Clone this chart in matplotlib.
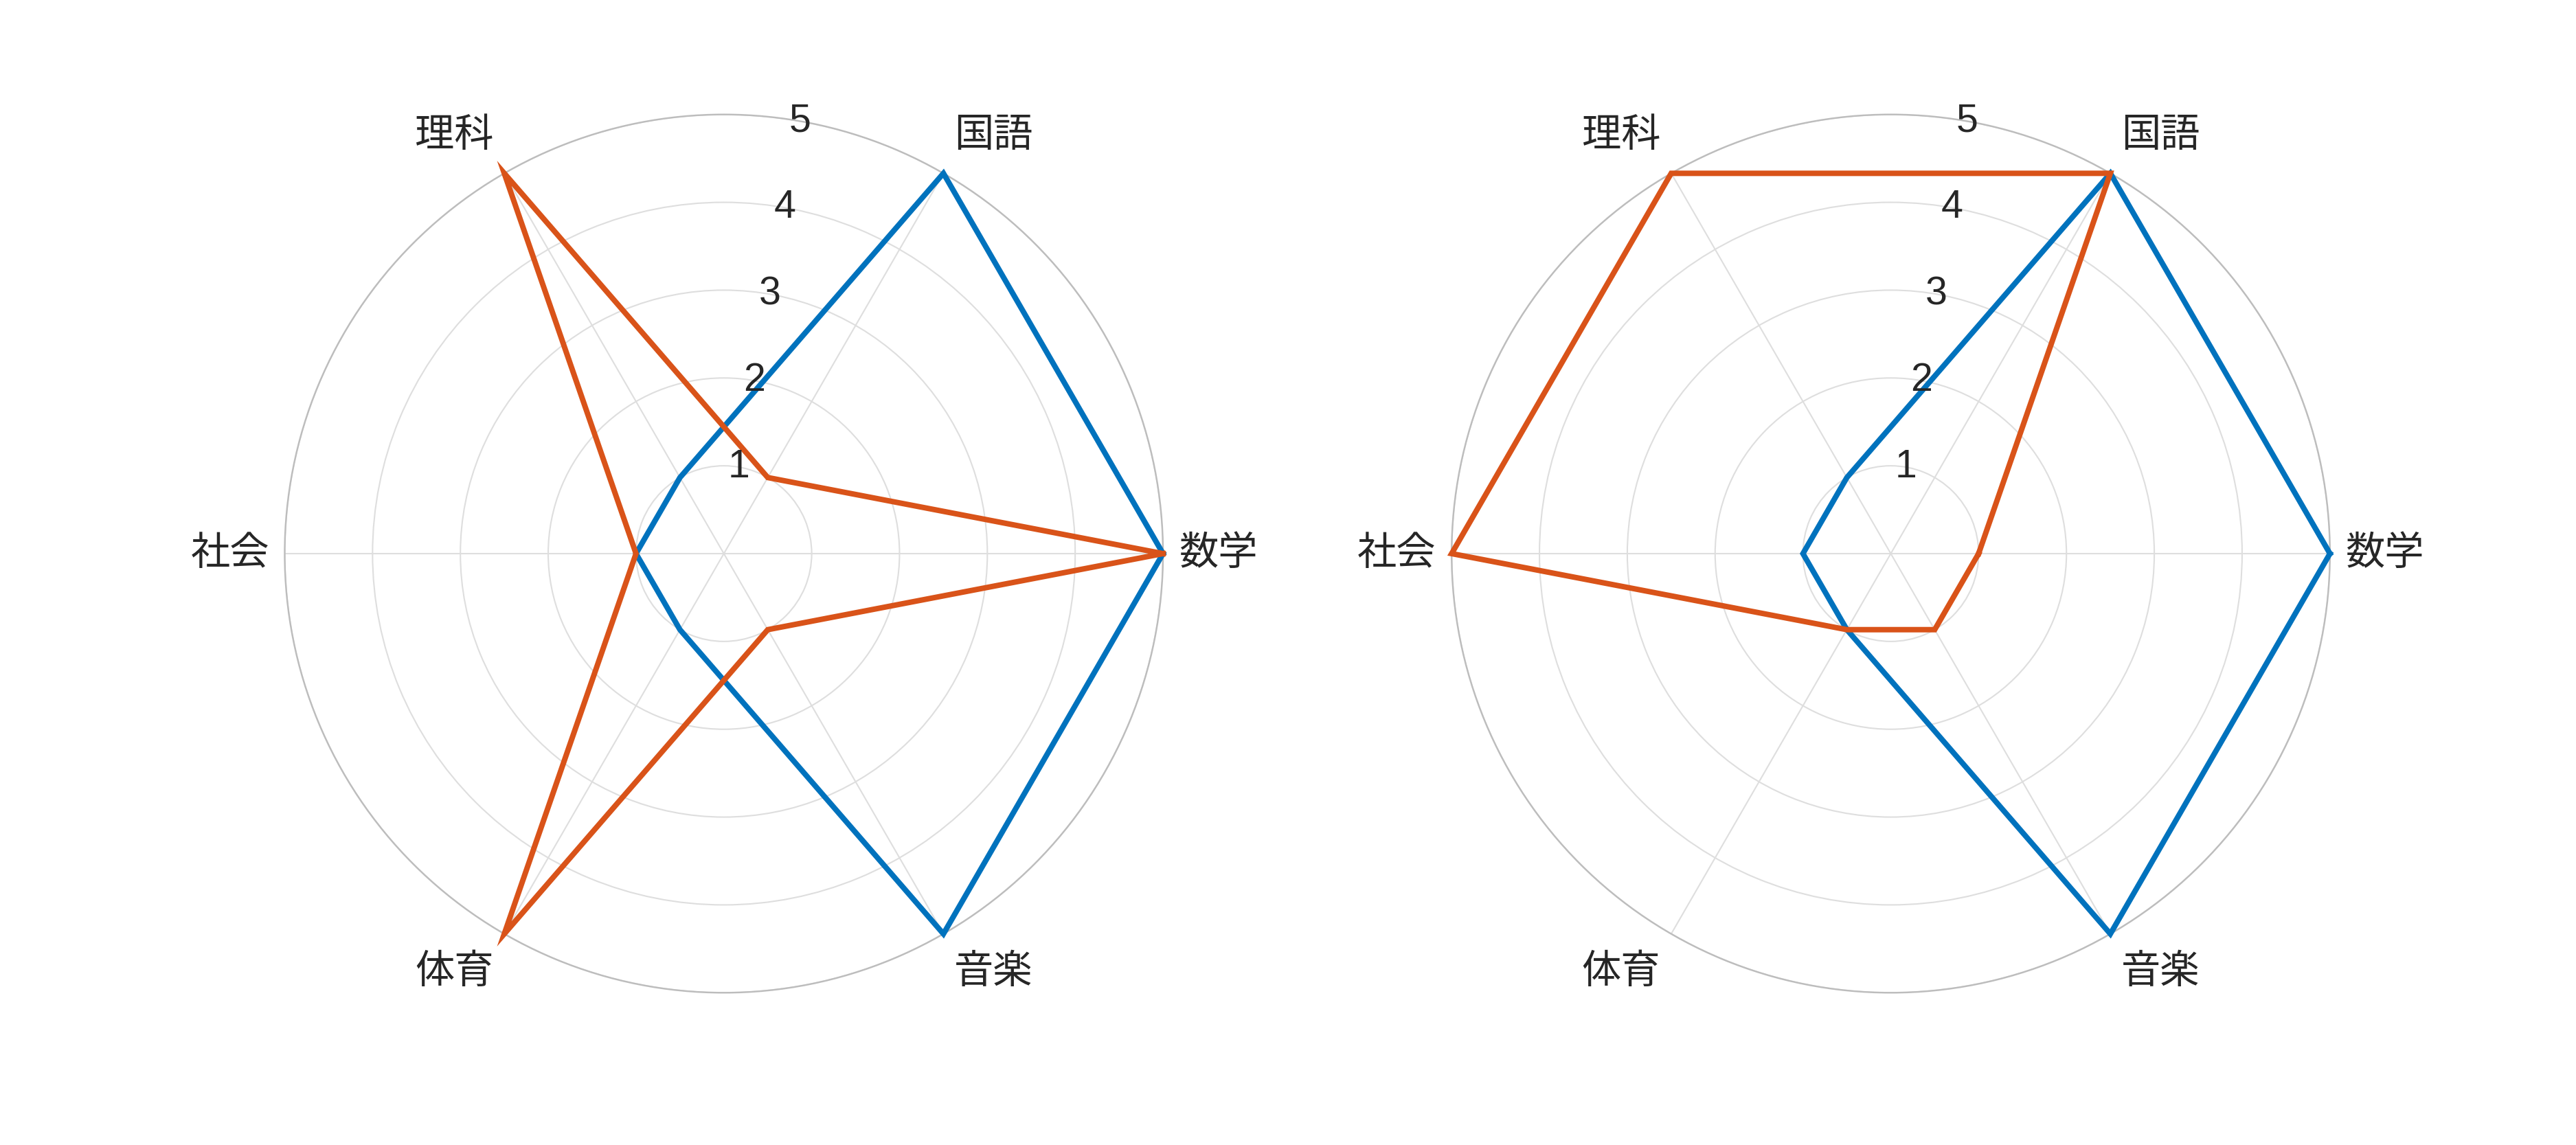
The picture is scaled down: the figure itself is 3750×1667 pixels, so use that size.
import numpy as np
import matplotlib
matplotlib.use('Agg')
import matplotlib.pyplot as plt

plt.rcParams['font.family'] = ['Noto Sans CJK JP', 'DejaVu Sans']

# subjects, counter-clockwise from the right
subjects = ['数学', '国語', '理科', '社会', '体育', '音楽']
r_ticks = [1, 2, 3, 4, 5]

# left chart
left_blue = [5, 5, 1, 1, 1, 5]
left_orange = [5, 1, 5, 1, 5, 1]
# right chart
right_blue = [5, 5, 1, 1, 1, 5]
right_orange = [1, 5, 5, 5, 1, 1]

blue = '#0072BD'
orange = '#D95319'
text_col = '#262626'

fig = plt.figure(figsize=(15, 6.668), dpi=250)

theta = np.deg2rad(np.arange(0, 360, 60))


def radar(ax, series):
    ax.set_ylim(0, 5)
    ax.set_yticks(r_ticks)
    ax.set_yticklabels([])
    ax.set_xticks(theta)
    ax.set_xticklabels([])
    ax.grid(True, color='#dedede', linewidth=0.6)
    ax.spines['polar'].set_color('#bdbdbd')
    ax.spines['polar'].set_linewidth(0.7)
    ax.tick_params(length=0)
    for vals, col in series:
        t = np.append(theta, theta[0])
        v = np.append(vals, vals[0])
        ax.plot(t, v, color=col, linewidth=2.3, solid_joinstyle='miter', clip_on=False, zorder=3)
    for r in r_ticks:
        ax.text(np.deg2rad(80), r, str(r), ha='center', va='center',
                fontsize=16.5, family=['Liberation Sans'], color=text_col, zorder=4)
    for a, s in zip(theta, subjects):
        c, sn = np.round(np.cos(a), 3), np.round(np.sin(a), 3)
        dx = 23 * np.sign(c) if abs(c) > 0.9 else 21 * np.sign(c)
        dy = 16 * np.sign(sn)
        ax.annotate(s, xy=(a, 5), xytext=(dx, dy), textcoords='offset points',
                    ha='center', va='center', fontsize=16.5, color=text_col,
                    annotation_clip=False)


ax1 = fig.add_axes([0.281 - 0.1705, 0.5165 - 0.3835, 0.341, 0.767], projection='polar')
radar(ax1, [(left_blue, blue), (left_orange, orange)])
ax2 = fig.add_axes([0.734 - 0.1705, 0.5165 - 0.3835, 0.341, 0.767], projection='polar')
radar(ax2, [(right_blue, blue), (right_orange, orange)])

fig.savefig('out.png', dpi=250)
